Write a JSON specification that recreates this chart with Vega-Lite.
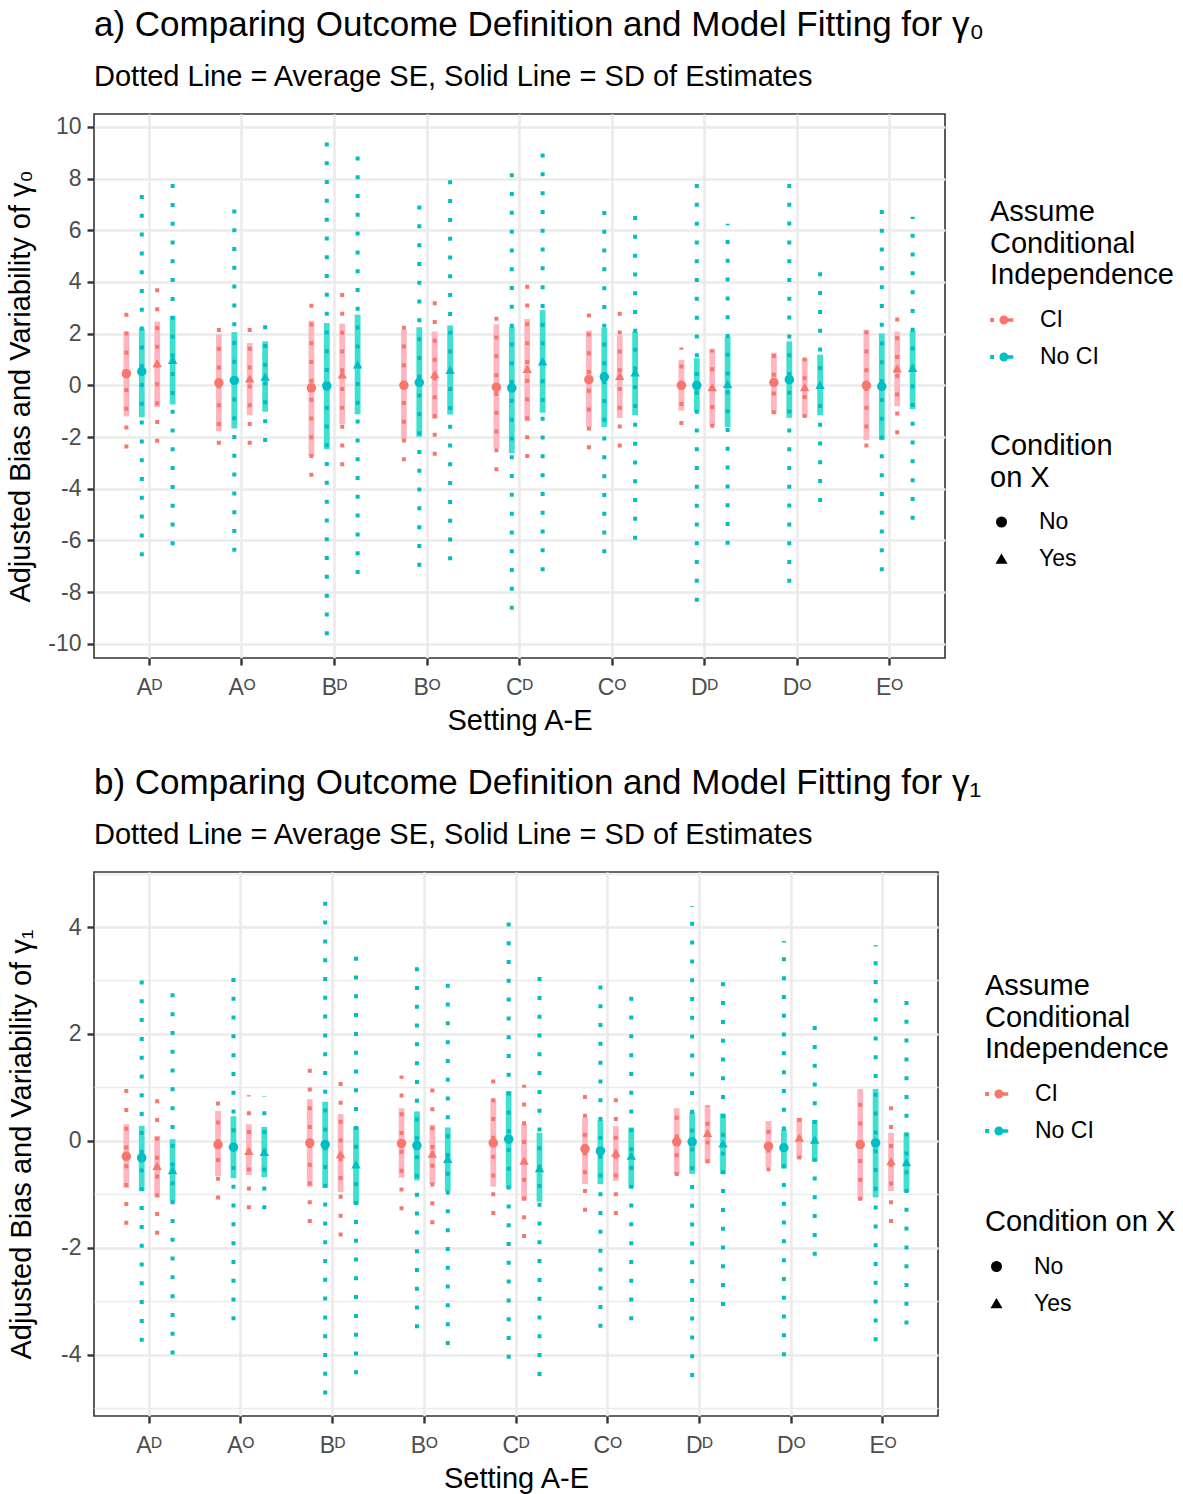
{
  "$schema": "https://vega.github.io/schema/vega-lite/v6.json",
  "background": "white",
  "padding": {"top": 7, "left": 5, "right": 3, "bottom": 3},
  "spacing": 29,
  "datasets": {
    "a": [
      {"s":"Aᴰ","ci":"CI","cx":"No","g":"CI / No","est":0.45,"se_lo":-2.44,"se_hi":3.37,"sd_lo":-1.2,"sd_hi":2.08},
      {"s":"Aᴰ","ci":"No CI","cx":"No","g":"No CI / No","est":0.54,"se_lo":-6.61,"se_hi":7.67,"sd_lo":-1.23,"sd_hi":2.19},
      {"s":"Aᴰ","ci":"CI","cx":"Yes","g":"CI / Yes","est":0.86,"se_lo":-2.22,"se_hi":3.9,"sd_lo":-0.84,"sd_hi":2.47},
      {"s":"Aᴰ","ci":"No CI","cx":"Yes","g":"No CI / Yes","est":0.99,"se_lo":-6.19,"se_hi":8.18,"sd_lo":-0.74,"sd_hi":2.68},
      {"s":"Aᴼ","ci":"CI","cx":"No","g":"CI / No","est":0.1,"se_lo":-2.3,"se_hi":2.47,"sd_lo":-1.78,"sd_hi":1.97},
      {"s":"Aᴼ","ci":"No CI","cx":"No","g":"No CI / No","est":0.19,"se_lo":-6.44,"se_hi":6.83,"sd_lo":-1.67,"sd_hi":2.06},
      {"s":"Aᴼ","ci":"CI","cx":"Yes","g":"CI / Yes","est":0.27,"se_lo":-2.3,"se_hi":2.77,"sd_lo":-1.16,"sd_hi":1.64},
      {"s":"Aᴼ","ci":"No CI","cx":"Yes","g":"No CI / Yes","est":0.34,"se_lo":-2.19,"se_hi":2.81,"sd_lo":-1.02,"sd_hi":1.7},
      {"s":"Bᴰ","ci":"CI","cx":"No","g":"CI / No","est":-0.1,"se_lo":-3.54,"se_hi":3.26,"sd_lo":-2.72,"sd_hi":2.5},
      {"s":"Bᴰ","ci":"No CI","cx":"No","g":"No CI / No","est":-0.02,"se_lo":-9.67,"se_hi":9.6,"sd_lo":-2.47,"sd_hi":2.41},
      {"s":"Bᴰ","ci":"CI","cx":"Yes","g":"CI / Yes","est":0.42,"se_lo":-3.13,"se_hi":3.92,"sd_lo":-1.5,"sd_hi":2.39},
      {"s":"Bᴰ","ci":"No CI","cx":"Yes","g":"No CI / Yes","est":0.81,"se_lo":-7.3,"se_hi":8.91,"sd_lo":-1.12,"sd_hi":2.74},
      {"s":"Bᴼ","ci":"CI","cx":"No","g":"CI / No","est":0.0,"se_lo":-2.94,"se_hi":2.88,"sd_lo":-2.08,"sd_hi":2.15},
      {"s":"Bᴼ","ci":"No CI","cx":"No","g":"No CI / No","est":0.11,"se_lo":-7.02,"se_hi":7.21,"sd_lo":-1.99,"sd_hi":2.25},
      {"s":"Bᴼ","ci":"CI","cx":"Yes","g":"CI / Yes","est":0.43,"se_lo":-2.72,"se_hi":3.53,"sd_lo":-1.3,"sd_hi":2.08},
      {"s":"Bᴼ","ci":"No CI","cx":"Yes","g":"No CI / Yes","est":0.6,"se_lo":-6.77,"se_hi":7.97,"sd_lo":-1.13,"sd_hi":2.32},
      {"s":"Cᴰ","ci":"CI","cx":"No","g":"CI / No","est":-0.07,"se_lo":-3.32,"se_hi":3.12,"sd_lo":-2.43,"sd_hi":2.36},
      {"s":"Cᴰ","ci":"No CI","cx":"No","g":"No CI / No","est":-0.1,"se_lo":-8.68,"se_hi":8.46,"sd_lo":-2.63,"sd_hi":2.26},
      {"s":"Cᴰ","ci":"CI","cx":"Yes","g":"CI / Yes","est":0.64,"se_lo":-2.81,"se_hi":4.01,"sd_lo":-1.39,"sd_hi":2.57},
      {"s":"Cᴰ","ci":"No CI","cx":"Yes","g":"No CI / Yes","est":0.93,"se_lo":-7.19,"se_hi":9.02,"sd_lo":-1.06,"sd_hi":2.91},
      {"s":"Cᴼ","ci":"CI","cx":"No","g":"CI / No","est":0.22,"se_lo":-2.47,"se_hi":2.84,"sd_lo":-1.61,"sd_hi":2.12},
      {"s":"Cᴼ","ci":"No CI","cx":"No","g":"No CI / No","est":0.33,"se_lo":-6.5,"se_hi":7.13,"sd_lo":-1.61,"sd_hi":2.22},
      {"s":"Cᴼ","ci":"CI","cx":"Yes","g":"CI / Yes","est":0.37,"se_lo":-2.4,"se_hi":3.08,"sd_lo":-1.26,"sd_hi":1.94},
      {"s":"Cᴼ","ci":"No CI","cx":"Yes","g":"No CI / Yes","est":0.5,"se_lo":-5.97,"se_hi":6.95,"sd_lo":-1.16,"sd_hi":2.08},
      {"s":"Dᴰ","ci":"CI","cx":"No","g":"CI / No","est":0.0,"se_lo":-1.53,"se_hi":1.46,"sd_lo":-0.98,"sd_hi":0.98},
      {"s":"Dᴰ","ci":"No CI","cx":"No","g":"No CI / No","est":0.0,"se_lo":-8.37,"se_hi":8.32,"sd_lo":-1.02,"sd_hi":1.05},
      {"s":"Dᴰ","ci":"CI","cx":"Yes","g":"CI / Yes","est":-0.07,"se_lo":-1.64,"se_hi":1.39,"sd_lo":-1.57,"sd_hi":1.42},
      {"s":"Dᴰ","ci":"No CI","cx":"Yes","g":"No CI / Yes","est":0.06,"se_lo":-6.17,"se_hi":6.25,"sd_lo":-1.61,"sd_hi":1.88},
      {"s":"Dᴼ","ci":"CI","cx":"No","g":"CI / No","est":0.11,"se_lo":-1.12,"se_hi":1.3,"sd_lo":-1.09,"sd_hi":1.26},
      {"s":"Dᴼ","ci":"No CI","cx":"No","g":"No CI / No","est":0.22,"se_lo":-7.64,"se_hi":8.08,"sd_lo":-1.26,"sd_hi":1.7},
      {"s":"Dᴼ","ci":"CI","cx":"Yes","g":"CI / Yes","est":-0.07,"se_lo":-1.26,"se_hi":1.09,"sd_lo":-1.23,"sd_hi":1.05},
      {"s":"Dᴼ","ci":"No CI","cx":"Yes","g":"No CI / Yes","est":0.02,"se_lo":-4.51,"se_hi":4.5,"sd_lo":-1.16,"sd_hi":1.19},
      {"s":"Eᴼ","ci":"CI","cx":"No","g":"CI / No","est":0.0,"se_lo":-2.4,"se_hi":2.4,"sd_lo":-2.12,"sd_hi":2.15},
      {"s":"Eᴼ","ci":"No CI","cx":"No","g":"No CI / No","est":-0.04,"se_lo":-7.19,"se_hi":7.08,"sd_lo":-2.12,"sd_hi":2.01},
      {"s":"Eᴼ","ci":"CI","cx":"Yes","g":"CI / Yes","est":0.66,"se_lo":-1.89,"se_hi":3.12,"sd_lo":-0.81,"sd_hi":2.08},
      {"s":"Eᴼ","ci":"No CI","cx":"Yes","g":"No CI / Yes","est":0.68,"se_lo":-5.2,"se_hi":6.52,"sd_lo":-0.92,"sd_hi":2.11}
    ],
    "b": [
      {"s":"Aᴰ","ci":"CI","cx":"No","g":"CI / No","est":-0.29,"se_lo":-1.57,"se_hi":0.97,"sd_lo":-0.88,"sd_hi":0.31},
      {"s":"Aᴰ","ci":"No CI","cx":"No","g":"No CI / No","est":-0.32,"se_lo":-3.76,"se_hi":3.12,"sd_lo":-0.94,"sd_hi":0.28},
      {"s":"Aᴰ","ci":"CI","cx":"Yes","g":"CI / Yes","est":-0.47,"se_lo":-1.76,"se_hi":0.82,"sd_lo":-1.06,"sd_hi":0.09},
      {"s":"Aᴰ","ci":"No CI","cx":"Yes","g":"No CI / Yes","est":-0.55,"se_lo":-4.0,"se_hi":2.89,"sd_lo":-1.14,"sd_hi":0.03},
      {"s":"Aᴼ","ci":"CI","cx":"No","g":"CI / No","est":-0.07,"se_lo":-1.1,"se_hi":0.95,"sd_lo":-0.66,"sd_hi":0.56},
      {"s":"Aᴼ","ci":"No CI","cx":"No","g":"No CI / No","est":-0.12,"se_lo":-3.36,"se_hi":3.11,"sd_lo":-0.7,"sd_hi":0.46},
      {"s":"Aᴼ","ci":"CI","cx":"Yes","g":"CI / Yes","est":-0.19,"se_lo":-1.28,"se_hi":0.85,"sd_lo":-0.64,"sd_hi":0.31},
      {"s":"Aᴼ","ci":"No CI","cx":"Yes","g":"No CI / Yes","est":-0.21,"se_lo":-1.28,"se_hi":0.84,"sd_lo":-0.68,"sd_hi":0.26},
      {"s":"Bᴰ","ci":"CI","cx":"No","g":"CI / No","est":-0.04,"se_lo":-1.54,"se_hi":1.44,"sd_lo":-0.86,"sd_hi":0.78},
      {"s":"Bᴰ","ci":"No CI","cx":"No","g":"No CI / No","est":-0.07,"se_lo":-4.75,"se_hi":4.59,"sd_lo":-0.88,"sd_hi":0.73},
      {"s":"Bᴰ","ci":"CI","cx":"Yes","g":"CI / Yes","est":-0.25,"se_lo":-1.79,"se_hi":1.25,"sd_lo":-0.96,"sd_hi":0.5},
      {"s":"Bᴰ","ci":"No CI","cx":"Yes","g":"No CI / Yes","est":-0.44,"se_lo":-4.37,"se_hi":3.46,"sd_lo":-1.19,"sd_hi":0.26},
      {"s":"Bᴼ","ci":"CI","cx":"No","g":"CI / No","est":-0.05,"se_lo":-1.3,"se_hi":1.22,"sd_lo":-0.69,"sd_hi":0.61},
      {"s":"Bᴼ","ci":"No CI","cx":"No","g":"No CI / No","est":-0.09,"se_lo":-3.51,"se_hi":3.31,"sd_lo":-0.74,"sd_hi":0.55},
      {"s":"Bᴼ","ci":"CI","cx":"Yes","g":"CI / Yes","est":-0.24,"se_lo":-1.56,"se_hi":1.02,"sd_lo":-0.81,"sd_hi":0.3},
      {"s":"Bᴼ","ci":"No CI","cx":"Yes","g":"No CI / Yes","est":-0.34,"se_lo":-3.82,"se_hi":3.11,"sd_lo":-0.94,"sd_hi":0.25},
      {"s":"Cᴰ","ci":"CI","cx":"No","g":"CI / No","est":-0.04,"se_lo":-1.39,"se_hi":1.32,"sd_lo":-0.86,"sd_hi":0.78},
      {"s":"Cᴰ","ci":"No CI","cx":"No","g":"No CI / No","est":0.03,"se_lo":-4.08,"se_hi":4.12,"sd_lo":-0.89,"sd_hi":0.93},
      {"s":"Cᴰ","ci":"CI","cx":"Yes","g":"CI / Yes","est":-0.37,"se_lo":-1.82,"se_hi":1.05,"sd_lo":-1.12,"sd_hi":0.31},
      {"s":"Cᴰ","ci":"No CI","cx":"Yes","g":"No CI / Yes","est":-0.51,"se_lo":-4.4,"se_hi":3.32,"sd_lo":-1.14,"sd_hi":0.15},
      {"s":"Cᴼ","ci":"CI","cx":"No","g":"CI / No","est":-0.15,"se_lo":-1.33,"se_hi":1.04,"sd_lo":-0.81,"sd_hi":0.43},
      {"s":"Cᴼ","ci":"No CI","cx":"No","g":"No CI / No","est":-0.19,"se_lo":-3.5,"se_hi":3.09,"sd_lo":-0.81,"sd_hi":0.38},
      {"s":"Cᴼ","ci":"CI","cx":"Yes","g":"CI / Yes","est":-0.22,"se_lo":-1.39,"se_hi":0.88,"sd_lo":-0.75,"sd_hi":0.28},
      {"s":"Cᴼ","ci":"No CI","cx":"Yes","g":"No CI / Yes","est":-0.28,"se_lo":-3.36,"se_hi":2.75,"sd_lo":-0.88,"sd_hi":0.25},
      {"s":"Dᴰ","ci":"CI","cx":"No","g":"CI / No","est":-0.02,"se_lo":-0.66,"se_hi":0.61,"sd_lo":-0.62,"sd_hi":0.61},
      {"s":"Dᴰ","ci":"No CI","cx":"No","g":"No CI / No","est":-0.02,"se_lo":-4.42,"se_hi":4.39,"sd_lo":-0.62,"sd_hi":0.53},
      {"s":"Dᴰ","ci":"CI","cx":"Yes","g":"CI / Yes","est":0.15,"se_lo":-0.42,"se_hi":0.66,"sd_lo":-0.42,"sd_hi":0.66},
      {"s":"Dᴰ","ci":"No CI","cx":"Yes","g":"No CI / Yes","est":-0.05,"se_lo":-3.09,"se_hi":2.99,"sd_lo":-0.62,"sd_hi":0.51},
      {"s":"Dᴼ","ci":"CI","cx":"No","g":"CI / No","est":-0.1,"se_lo":-0.57,"se_hi":0.37,"sd_lo":-0.49,"sd_hi":0.37},
      {"s":"Dᴼ","ci":"No CI","cx":"No","g":"No CI / No","est":-0.13,"se_lo":-4.03,"se_hi":3.74,"sd_lo":-0.52,"sd_hi":0.21},
      {"s":"Dᴼ","ci":"CI","cx":"Yes","g":"CI / Yes","est":0.06,"se_lo":-0.35,"se_hi":0.45,"sd_lo":-0.33,"sd_hi":0.43},
      {"s":"Dᴼ","ci":"No CI","cx":"Yes","g":"No CI / Yes","est":0.02,"se_lo":-2.15,"se_hi":2.15,"sd_lo":-0.39,"sd_hi":0.39},
      {"s":"Eᴼ","ci":"CI","cx":"No","g":"CI / No","est":-0.07,"se_lo":-1.12,"se_hi":0.98,"sd_lo":-1.1,"sd_hi":0.97},
      {"s":"Eᴼ","ci":"No CI","cx":"No","g":"No CI / No","est":-0.04,"se_lo":-3.75,"se_hi":3.66,"sd_lo":-1.06,"sd_hi":0.97},
      {"s":"Eᴼ","ci":"CI","cx":"Yes","g":"CI / Yes","est":-0.38,"se_lo":-1.54,"se_hi":0.75,"sd_lo":-0.94,"sd_hi":0.15},
      {"s":"Eᴼ","ci":"No CI","cx":"Yes","g":"No CI / Yes","est":-0.4,"se_lo":-3.44,"se_hi":2.62,"sd_lo":-0.96,"sd_hi":0.15}
    ]
  },
  "vconcat": [
    {
      "data": {"name": "a"},
      "width": 851,
      "height": 544,
      "title": {
        "text": "a) Comparing Outcome Definition and Model Fitting for γ₀",
        "subtitle": "Dotted Line = Average SE, Solid Line = SD of Estimates",
        "anchor": "start", "frame": "group", "offset": 22, "subtitlePadding": 20
      },
      "encoding": {
        "x": {"field": "s", "type": "nominal", "sort": ["Aᴰ","Aᴼ","Bᴰ","Bᴼ","Cᴰ","Cᴼ","Dᴰ","Dᴼ","Eᴼ"],
          "scale": {"paddingInner": 0, "paddingOuter": 0.1},
          "axis": {"title": "Setting A-E", "bandPosition": 0.5, "labelAngle": 0, "grid": true, "labelPadding": 11, "titlePadding": 7}},
        "xOffset": {"field": "g", "type": "nominal", "sort": ["CI / No","No CI / No","CI / Yes","No CI / Yes"],
          "scale": {"paddingInner": 0, "paddingOuter": 2.02}}
      },
      "layer": [
        {
          "mark": {"type": "rule", "strokeWidth": 5.8},
          "encoding": {
            "y": {"field": "sd_lo", "type": "quantitative", "scale": {"domain": [-10.55, 10.5], "nice": false, "zero": false},
              "axis": {"title": "Adjusted Bias and Variability of γ₀", "values": [-10,-9,-8,-7,-6,-5,-4,-3,-2,-1,0,1,2,3,4,5,6,7,8,9,10],
                "labelExpr": "datum.value % 2 === 0 ? '' + datum.value : ''",
                "gridWidth": {"condition": {"test": "datum.value % 2 !== 0", "value": 1.3}, "value": 2.6},
                "tickOpacity": {"condition": {"test": "datum.value % 2 !== 0", "value": 0}, "value": 1},
                "labelPadding": 6, "titlePadding": 12}},
            "y2": {"field": "sd_hi"},
            "stroke": {"field": "g", "type": "nominal", "scale": {"domain": ["CI / No","No CI / No","CI / Yes","No CI / Yes"], "range": ["#FFB6C1","#40E0D0","#FFB6C1","#40E0D0"]}, "legend": null}
          }
        },
        {
          "mark": {"type": "rule", "strokeWidth": 4, "strokeDash": [4, 14.8]},
          "encoding": {
            "y": {"field": "se_lo", "type": "quantitative", "title": "Adjusted Bias and Variability of γ₀"},
            "y2": {"field": "se_hi"},
            "color": {"field": "ci", "type": "nominal", "scale": {"domain": ["CI","No CI"], "range": ["#F8766D","#00BFC4"]}}
          }
        },
        {
          "mark": {"type": "point", "filled": true, "opacity": 1},
          "encoding": {
            "y": {"field": "est", "type": "quantitative", "title": "Adjusted Bias and Variability of γ₀"},
            "size": {"field": "g", "type": "nominal", "scale": {"domain": ["CI / No","No CI / No","CI / Yes","No CI / Yes"], "range": [90, 90, 130, 130]}, "legend": null},
            "color": {"field": "ci", "type": "nominal", "scale": {"domain": ["CI","No CI"], "range": ["#F8766D","#00BFC4"]},
              "legend": {"title": ["Assume", "Conditional", "Independence"], "orient": "none", "legendX": 896, "legendY": 84,
                "symbolType": "M-1,-0.17H-0.67V0.17H-1Z M-0.22,0A0.38,0.38 0 1,1 0.54,0A0.38,0.38 0 1,1 -0.22,0Z M0.5,-0.15H0.95V0.15H0.5Z",
                "symbolSize": 560, "symbolStrokeWidth": 0}},
            "shape": {"field": "cx", "type": "nominal", "scale": {"domain": ["No","Yes"], "range": ["circle","triangle-up"]},
              "legend": {"title": ["Condition", "on X"], "orient": "none", "legendX": 896, "legendY": 318,
                "symbolFillColor": "black", "symbolStrokeColor": "black", "symbolSize": 90}}
          }
        }
      ]
    },
    {
      "data": {"name": "b"},
      "width": 844,
      "height": 544,
      "title": {
        "text": "b) Comparing Outcome Definition and Model Fitting for γ₁",
        "subtitle": "Dotted Line = Average SE, Solid Line = SD of Estimates",
        "anchor": "start", "frame": "group", "offset": 22, "subtitlePadding": 20
      },
      "encoding": {
        "x": {"field": "s", "type": "nominal", "sort": ["Aᴰ","Aᴼ","Bᴰ","Bᴼ","Cᴰ","Cᴼ","Dᴰ","Dᴼ","Eᴼ"],
          "scale": {"paddingInner": 0, "paddingOuter": 0.1},
          "axis": {"title": "Setting A-E", "bandPosition": 0.5, "labelAngle": 0, "grid": true, "labelPadding": 11, "titlePadding": 7}},
        "xOffset": {"field": "g", "type": "nominal", "sort": ["CI / No","No CI / No","CI / Yes","No CI / Yes"],
          "scale": {"paddingInner": 0, "paddingOuter": 2.02}}
      },
      "layer": [
        {
          "mark": {"type": "rule", "strokeWidth": 5.8},
          "encoding": {
            "y": {"field": "sd_lo", "type": "quantitative", "scale": {"domain": [-5.15, 5.03], "nice": false, "zero": false},
              "axis": {"title": "Adjusted Bias and Variability of γ₁", "values": [-5,-4,-3,-2,-1,0,1,2,3,4,5],
                "labelExpr": "datum.value % 2 === 0 ? '' + datum.value : ''",
                "gridWidth": {"condition": {"test": "datum.value % 2 !== 0", "value": 1.3}, "value": 2.6},
                "tickOpacity": {"condition": {"test": "datum.value % 2 !== 0", "value": 0}, "value": 1},
                "labelPadding": 6, "titlePadding": 24}},
            "y2": {"field": "sd_hi"},
            "stroke": {"field": "g", "type": "nominal", "scale": {"domain": ["CI / No","No CI / No","CI / Yes","No CI / Yes"], "range": ["#FFB6C1","#40E0D0","#FFB6C1","#40E0D0"]}, "legend": null}
          }
        },
        {
          "mark": {"type": "rule", "strokeWidth": 4, "strokeDash": [4, 14.8]},
          "encoding": {
            "y": {"field": "se_lo", "type": "quantitative", "title": "Adjusted Bias and Variability of γ₁"},
            "y2": {"field": "se_hi"},
            "color": {"field": "ci", "type": "nominal", "scale": {"domain": ["CI","No CI"], "range": ["#F8766D","#00BFC4"]}}
          }
        },
        {
          "mark": {"type": "point", "filled": true, "opacity": 1},
          "encoding": {
            "y": {"field": "est", "type": "quantitative", "title": "Adjusted Bias and Variability of γ₁"},
            "size": {"field": "g", "type": "nominal", "scale": {"domain": ["CI / No","No CI / No","CI / Yes","No CI / Yes"], "range": [90, 90, 130, 130]}, "legend": null},
            "color": {"field": "ci", "type": "nominal", "scale": {"domain": ["CI","No CI"], "range": ["#F8766D","#00BFC4"]},
              "legend": {"title": ["Assume", "Conditional", "Independence"], "orient": "none", "legendX": 891, "legendY": 100,
                "symbolType": "M-1,-0.17H-0.67V0.17H-1Z M-0.22,0A0.38,0.38 0 1,1 0.54,0A0.38,0.38 0 1,1 -0.22,0Z M0.5,-0.15H0.95V0.15H0.5Z",
                "symbolSize": 560, "symbolStrokeWidth": 0}},
            "shape": {"field": "cx", "type": "nominal", "scale": {"domain": ["No","Yes"], "range": ["circle","triangle-up"]},
              "legend": {"title": "Condition on X", "orient": "none", "legendX": 891, "legendY": 336,
                "symbolFillColor": "black", "symbolStrokeColor": "black", "symbolSize": 90}}
          }
        }
      ]
    }
  ],
  "resolve": {
    "scale": {"color": "independent", "shape": "independent", "stroke": "independent", "size": "independent"},
    "legend": {"color": "independent", "shape": "independent"}
  },
  "config": {
    "font": "Liberation Sans",
    "view": {"stroke": "#333333", "strokeWidth": 1.6},
    "axis": {
      "labelFont": "Liberation Sans", "labelFontSize": 23, "labelColor": "#4D4D4D",
      "titleFont": "Liberation Sans", "titleFontSize": 29, "titleFontWeight": "normal", "titleColor": "black",
      "tickColor": "#333333", "tickWidth": 2.4, "tickSize": 7, "domain": false,
      "gridColor": "#EBEBEB", "gridWidth": 2.6
    },
    "legend": {
      "titleFont": "Liberation Sans", "titleFontSize": 29, "titleFontWeight": "normal", "titleColor": "black",
      "titleLineHeight": 31.5, "titlePadding": 18, "titleLimit": 400, "labelLimit": 300,
      "labelFont": "Liberation Sans", "labelFontSize": 23, "labelColor": "black", "labelOffset": 26,
      "rowPadding": 13
    },
    "title": {
      "font": "Liberation Sans", "fontSize": 35, "fontWeight": "normal", "color": "black",
      "subtitleFont": "Liberation Sans", "subtitleFontSize": 29, "subtitleColor": "black"
    }
  }
}
